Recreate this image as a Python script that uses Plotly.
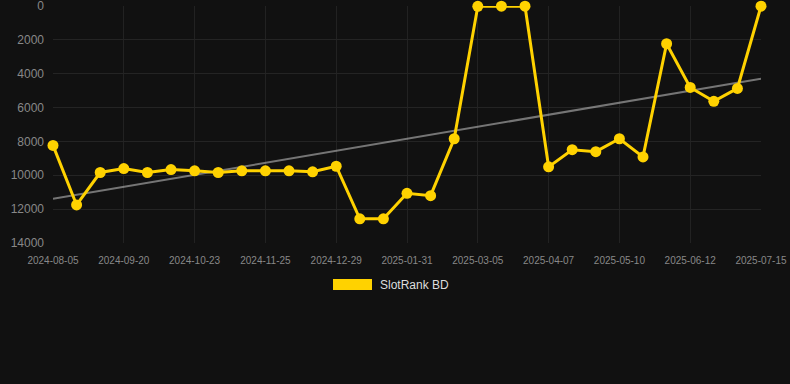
import plotly.graph_objects as go
import numpy as np

dates = [
    "2024-08-05", "2024-08-20", "2024-09-05", "2024-09-20", "2024-10-01", "2024-10-12",
    "2024-10-23", "2024-11-03", "2024-11-14", "2024-11-25", "2024-12-06", "2024-12-17",
    "2024-12-29", "2025-01-09", "2025-01-20", "2025-01-31", "2025-02-11", "2025-02-22",
    "2025-03-05", "2025-03-16", "2025-03-27", "2025-04-07", "2025-04-18", "2025-04-29",
    "2025-05-10", "2025-05-21", "2025-06-01", "2025-06-12", "2025-06-23", "2025-07-04",
    "2025-07-15",
]
rank = [
    8234, 11753, 9835, 9600, 9835, 9659,
    9736, 9835, 9736, 9736, 9736, 9795,
    9466, 12574, 12574, 11067, 11203, 7842,
    20, 10, 10, 9501, 8487, 8604,
    7842, 8915, 2229, 4810, 5631, 4869,
    10,
]
tick_dates = dates[::3]
y_ticks = [0, 2000, 4000, 6000, 8000, 10000, 12000, 14000]
y_labels = ["0", "2000", "4000", "6000", "8000", "10000", "12000", "14000"]
series_name = "SlotRank BD"

# linear trend of the series
idx = np.arange(len(rank))
slope, intercept = np.polyfit(idx, rank, 1)
trend = (slope * idx + intercept).tolist()

fig = go.Figure()
fig.add_trace(go.Scatter(
    x=dates, y=trend, mode="lines",
    line=dict(color="rgba(200,200,200,0.55)", width=2),
    showlegend=False, hoverinfo="skip",
))
fig.add_trace(go.Scatter(
    x=dates, y=rank, mode="lines+markers", name=series_name,
    line=dict(color="#FFD200", width=3),
    marker=dict(color="#FFD200", size=11),
    cliponaxis=False, showlegend=False,
))

L, R, T, B = 53, 29, 6, 141
W, H = 790, 384
pw, ph = W - L - R, H - T - B

def px_x(x):
    return (x - L) / pw

def px_y(y):
    return (H - B - y) / ph

fig.add_shape(type="rect", xref="paper", yref="paper",
              x0=px_x(333), x1=px_x(372), y0=px_y(290), y1=px_y(279),
              fillcolor="#FFD200", line=dict(color="#FFD200", width=0))
fig.add_annotation(xref="paper", yref="paper", x=px_x(378), y=px_y(284.5),
                   text=series_name, showarrow=False, xanchor="left", yanchor="middle",
                   font=dict(color="#dddddd", size=12, family="Liberation Sans, Arial, sans-serif"))

fig.update_layout(
    width=W, height=H,
    margin=dict(l=L, r=R, t=T, b=B),
    paper_bgcolor="#111111", plot_bgcolor="#111111",
    font=dict(family="Liberation Sans, Arial, sans-serif", color="#888888"),
    showlegend=False,
    xaxis=dict(
        type="category", range=[0, len(dates) - 1],
        tickmode="array", tickvals=tick_dates, ticktext=tick_dates,
        showgrid=True, gridcolor="#222222", gridwidth=1,
        zeroline=False, showline=False, ticks="",
        ticklabelstandoff=10, automargin=False, ticklabeloverflow="allow",
        tickfont=dict(size=10, color="#888888"),
    ),
    yaxis=dict(
        range=[14000, -1], tickmode="array", tickvals=y_ticks, ticktext=y_labels,
        showgrid=True, gridcolor="#242424", gridwidth=1,
        zeroline=False, showline=False, ticks="",
        ticklabelstandoff=8, automargin=False, ticklabeloverflow="allow",
        tickfont=dict(size=12, color="#888888"),
    ),
)

fig.write_html("out.html")
